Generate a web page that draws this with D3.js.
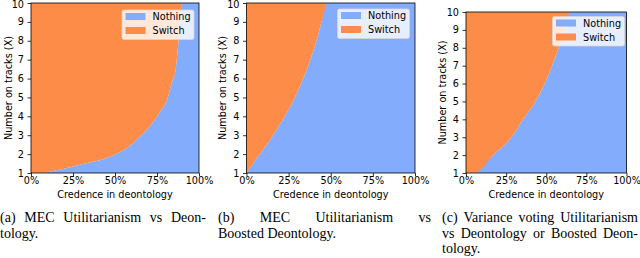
<!DOCTYPE html>
<html>
<head>
<meta charset="utf-8">
<script src="https://cdn.jsdelivr.net/npm/d3@7"></script>
<style>
  body { margin: 0; background: #fff; }
  svg { display: block; }
  .tick text { font-family: "DejaVu Sans", sans-serif; font-size: 9.7px; fill: #000; }
  .axlabel { font-family: "DejaVu Sans", sans-serif; font-size: 9.7px; fill: #000; }
  .caption { font-family: "Liberation Serif", "Times New Roman", serif; font-size: 14px; fill: #000; }
</style>
</head>
<body>
<svg id="chart" width="640" height="258"></svg>
<script>
// boundary between "Switch" (upper left) and "Nothing" (lower right)
// cred = credence in deontology (%), tracks = number on tracks (X) where the choice flips
const credA = [7, 13, 19, 25, 32, 39, 45, 50, 55, 60, 65, 70, 75, 78, 81, 83.5, 86.3, 87.5, 88.5, 89.8]
const tracksA = [1.0, 1.1, 1.21, 1.35, 1.5, 1.63, 1.8, 1.98, 2.2, 2.52, 2.95, 3.4, 3.98, 4.4, 4.87, 5.7, 6.6, 7.7, 8.6, 10]

const credB = [0, 7.9, 15.8, 22.7, 28.7, 33.6, 37.9, 41.5, 44.5, 47.4]
const tracksB = [1, 2, 3, 4, 5, 6, 7, 8, 9, 10]

const credC = [5.6, 17, 28.4, 35.6, 43.3, 49, 53.6, 57.8, 61.5, 64.2]
const tracksC = [1, 2, 3, 4, 5, 6, 7, 8, 9, 10]

const xTicks = [0, 25, 50, 75, 100]
const yTicks = [1, 2, 3, 4, 5, 6, 7, 8, 9, 10]
const seriesNames = ['Nothing', 'Switch']
const colors = { Nothing: '#84acfc', Switch: '#fd8c48' }

const captionA = [['(a) MEC Utilitarianism vs Deon-', true], ['tology.', false]]
const captionB = [['(b) MEC Utilitarianism vs', true], ['Boosted Deontology.', false]]
const captionC = [['(c) Variance voting Utilitarianism', true], ['vs Deontology or Boosted Deon-', true], ['tology.', false]]

const svg = d3.select('#chart')

const panels = [
  { cred: credA, tracks: tracksA, box: [31, 199, 3, 173], ylab: 8.5, legend: [122, 10], caption: captionA, cx: [0, 206] },
  { cred: credB, tracks: tracksB, box: [246.5, 415, 3, 173], ylab: 222, legend: [337.5, 9], caption: captionB, cx: [218, 431] },
  { cred: credC, tracks: tracksC, box: [466, 626.5, 12, 173], ylab: 442, legend: [552.5, 16.5], caption: captionC, cx: [442, 638] }
]

panels.forEach(p => {
  const [left, right, top, bottom] = p.box
  const x = d3.scaleLinear().domain([0, 100]).range([left, right])
  const y = d3.scaleLinear().domain([1, 10]).range([bottom, top])
  const data = p.cred.map((c, i) => ({ c: c, t: p.tracks[i] }))
  const first = data[0]
  const last = data[data.length - 1]

  // switch region: from the left edge up to the boundary; nothing region: the rest
  const switchPts = (first.c > 0 ? [{ c: 0, t: 1 }] : []).concat(data)
  const nothingPts = data.concat(last.c < 100 ? [{ c: 100, t: 10 }] : [])

  const g = svg.append('g')

  const switchArea = d3.area()
    .curve(d3.curveMonotoneX)
    .x(d => x(d.c))
    .y0(d => y(d.t))
    .y1(y(10))
  const nothingArea = d3.area()
    .curve(d3.curveMonotoneX)
    .x(d => x(d.c))
    .y0(y(1))
    .y1(d => y(d.t))

  // nothing also fills everything right of the boundary's top end
  g.append('path').attr('d', nothingArea(nothingPts)).attr('fill', colors.Nothing)
  g.append('path').attr('d', switchArea(switchPts)).attr('fill', colors.Switch)

  // axes
  g.append('g')
    .attr('transform', `translate(0,${bottom})`)
    .call(d3.axisBottom(x).tickValues(xTicks).tickFormat(d => d + '%').tickSize(3.5).tickPadding(0.8))
  const yAxis = g.append('g')
    .attr('transform', `translate(${left},0)`)
    .call(d3.axisLeft(y).tickValues(yTicks).tickSize(3.5).tickPadding(3.5))
  // keep the top label inside the picture
  if (top < 6) yAxis.selectAll('.tick text').filter(d => d === 10).attr('dy', '0.32em').attr('y', 0).attr('transform', 'translate(0,1.2)')
  g.selectAll('.domain').remove()
  g.selectAll('.tick line').attr('stroke', '#000').attr('stroke-width', 0.8)

  // frame
  g.append('rect')
    .attr('x', left).attr('y', top)
    .attr('width', right - left).attr('height', bottom - top)
    .attr('fill', 'none').attr('stroke', '#000').attr('stroke-width', 0.8)

  g.append('text').attr('class', 'axlabel')
    .attr('x', (left + right) / 2).attr('y', 197.5)
    .attr('text-anchor', 'middle')
    .text('Credence in deontology')
  g.append('text').attr('class', 'axlabel')
    .attr('transform', `translate(${p.ylab + 3.6},${(top + bottom) / 2}) rotate(-90)`)
    .attr('text-anchor', 'middle')
    .text('Number on tracks (X)')

  // legend
  const [lx, ly] = p.legend
  const lg = g.append('g').attr('transform', `translate(${lx},${ly})`)
  lg.append('rect')
    .attr('width', 72).attr('height', 29.5).attr('rx', 2)
    .attr('fill', '#fff').attr('fill-opacity', 0.8)
    .attr('stroke', '#d6d6d6').attr('stroke-width', 0.8)
  seriesNames.forEach((name, i) => {
    lg.append('rect')
      .attr('x', 3.5).attr('y', 3 + i * 14)
      .attr('width', 20).attr('height', 7)
      .attr('fill', colors[name])
    lg.append('text').attr('class', 'axlabel')
      .attr('x', 30.5).attr('y', 10 + i * 14)
      .text(name)
  })

  // caption, justified like the paper's text
  const [c0, c1] = p.cx
  p.caption.forEach(([line, justify], li) => {
    const yy = 222 + li * 15.5
    if (!justify) {
      svg.append('text').attr('class', 'caption').attr('x', c0).attr('y', yy).text(line)
      return
    }
    const words = line.split(' ')
    const nodes = words.map(w => svg.append('text').attr('class', 'caption').attr('y', yy).text(w))
    const widths = nodes.map(n => n.node().getComputedTextLength())
    let gap = (c1 - c0 - d3.sum(widths)) / (words.length - 1)
    let squeeze = 1
    if (gap < 2) { // too long: squeeze the words a little
      gap = 2
      squeeze = (c1 - c0 - gap * (words.length - 1)) / d3.sum(widths)
    }
    let cur = c0
    nodes.forEach((n, i) => {
      const w = widths[i] * squeeze
      n.attr('x', cur)
      if (squeeze < 1) n.attr('textLength', w).attr('lengthAdjust', 'spacingAndGlyphs')
      cur += w + gap
    })
  })
})
</script>
</body>
</html>
